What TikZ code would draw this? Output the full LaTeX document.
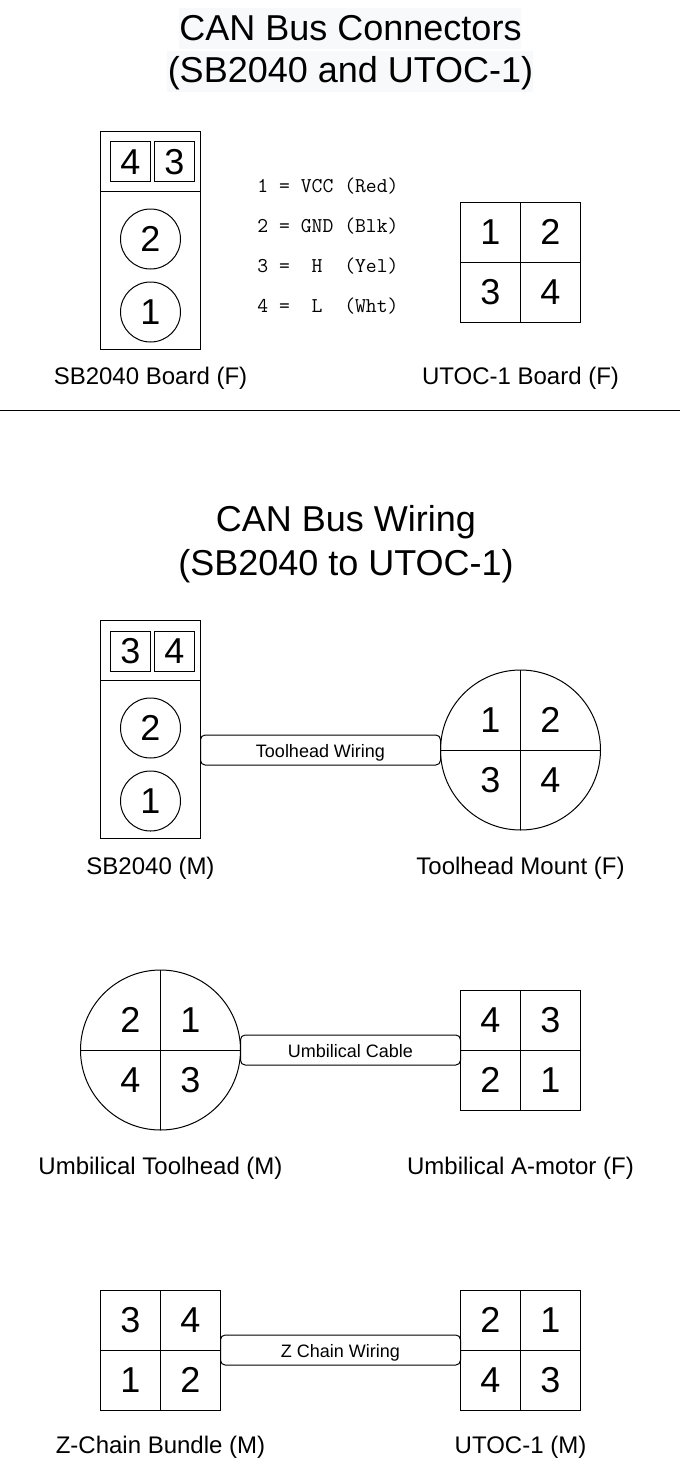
\documentclass[tikz,border=0pt]{standalone}
\usepackage{fontspec}
\setmainfont{Liberation Sans}
\definecolor{titlebg}{HTML}{F8F9FA}
\tikzset{
  every node/.style={inner sep=0pt,outer sep=0pt},
  titletext/.style={anchor=base,font=\fontsize{27pt}{27pt}\selectfont,text=black},
  caption/.style={anchor=base,font=\fontsize{18pt}{18pt}\selectfont,text=black},
  digit/.style={font=\fontsize{27pt}{27pt}\selectfont,text=black,text height=19pt,text depth=0pt},
  legend/.style={anchor=base,font=\fontsize{15.8pt}{15.8pt}\ttfamily,text=black},
  cell/.style={draw=black,line width=0.75pt,minimum width=45pt,minimum height=45pt,digit},
  pinbox/.style={draw=black,line width=0.75pt,minimum width=30pt,minimum height=30pt,digit},
  housing/.style={draw=black,line width=0.75pt,minimum width=75pt,minimum height=#1},
  pinround/.style={draw=black,line width=0.75pt,circle,minimum size=45pt,digit},
  biground/.style={draw=black,line width=0.75pt,circle,minimum size=120pt},
  cable/.style={draw=black,line width=0.75pt,rounded corners=3.5pt,minimum height=22.5pt,font=\fontsize{13.5pt}{13.5pt}\selectfont,text=black,text height=11.2pt,text depth=0pt},
  divider/.style={draw=black,line width=0.75pt},
}
\begin{document}
\begin{tikzpicture}[x=0.75pt,y=-0.75pt]
\useasboundingbox (0,0) rectangle (682,1471);
% titles
\fill[titlebg] (179,8) rectangle (521,48.7);
\fill[titlebg] (167,50.7) rectangle (533,91.7);
\begin{scope}[shift={(0.5,0)}]
\node[titletext] (t1) at (350,40.3) {CAN Bus Connectors};
\node[titletext] (t2) at (350,82.3) {(SB2040 and UTOC-1)};
\node[titletext] (t3) at (345.5,531.3) {CAN Bus Wiring};
\node[titletext] (t4) at (345.5,575) {(SB2040 to UTOC-1)};
% SB2040 board
\node[housing=163.5pt] (sbf) at (150,240.5) {};
\coordinate (sbfl) at (100,191);
\coordinate (sbfr) at (200,191);
\draw[divider] (sbfl) -- (sbfr);
\node[pinbox] (sbf4) at (130,161.5) {4};
\node[pinbox] (sbf3) at (174,161.5) {3};
\node[pinround] (sbf2) at (150,239) {2};
\node[pinround] (sbf1) at (150,312) {1};
\node[caption] (capsbf) at (150,384) {SB2040 Board (F)};
% legend
\node[legend] (l1) at (327.5,192) {1 = VCC (Red)};
\node[legend] (l2) at (327.5,232) {2 = GND (Blk)};
\node[legend] (l3) at (327.5,272) {3 =~~H~~(Yel)};
\node[legend] (l4) at (327.5,312) {4 =~~L~~(Wht)};
% UTOC-1 board
\node[cell] (ub1) at (490,232) {1};
\node[cell] (ub2) at (550,232) {2};
\node[cell] (ub3) at (490,292) {3};
\node[cell] (ub4) at (550,292) {4};
\node[caption] (capub) at (520,384) {UTOC-1 Board (F)};
% separator
\coordinate (sepl) at (-0.5,410);
\coordinate (sepr) at (679.5,410);
\draw[divider] (sepl) -- (sepr);
% SB2040 male
\node[housing=163.5pt] (sbm) at (150,729) {};
\coordinate (sbml) at (100,680);
\coordinate (sbmr) at (200,680);
\draw[divider] (sbml) -- (sbmr);
\node[pinbox] (sbm3) at (130,651) {3};
\node[pinbox] (sbm4) at (174,651) {4};
\node[pinround] (sbm2) at (150,728) {2};
\node[pinround] (sbm1) at (150,801) {1};
\node[caption] (capsbm) at (150,874) {SB2040 (M)};
% Toolhead mount
\node[biground] (tm) at (520,750) {};
\draw[divider] (tm.north) -- (tm.south);
\draw[divider] (tm.west) -- (tm.east);
\node[digit] (tm1) at (490,720) {1};
\node[digit] (tm2) at (550,720) {2};
\node[digit] (tm3) at (490,780) {3};
\node[digit] (tm4) at (550,780) {4};
\node[caption] (captm) at (520,874) {Toolhead Mount (F)};
\node[cable,minimum width=180pt] (w1) at (320,750) {Toolhead Wiring};
% Umbilical toolhead
\node[biground] (ut) at (160,1050) {};
\draw[divider] (ut.north) -- (ut.south);
\draw[divider] (ut.west) -- (ut.east);
\node[digit] (ut2) at (130,1020) {2};
\node[digit] (ut1) at (190,1020) {1};
\node[digit] (ut4) at (130,1080) {4};
\node[digit] (ut3) at (190,1080) {3};
\node[caption] (caput) at (160,1174) {Umbilical Toolhead (M)};
\node[cable,minimum width=165pt] (w2) at (350,1050) {Umbilical Cable};
% Umbilical A-motor
\node[cell] (ua4) at (490,1020) {4};
\node[cell] (ua3) at (550,1020) {3};
\node[cell] (ua2) at (490,1080) {2};
\node[cell] (ua1) at (550,1080) {1};
\node[caption] (capua) at (520,1174) {Umbilical A-motor (F)};
% Z chain bundle
\node[cell] (zb3) at (130,1320) {3};
\node[cell] (zb4) at (190,1320) {4};
\node[cell] (zb1) at (130,1380) {1};
\node[cell] (zb2) at (190,1380) {2};
\node[caption] (capzb) at (160,1453) {Z-Chain Bundle (M)};
\node[cable,minimum width=180pt] (w3) at (340,1350) {Z Chain Wiring};
% UTOC-1 male
\node[cell] (um2) at (490,1320) {2};
\node[cell] (um1) at (550,1320) {1};
\node[cell] (um4) at (490,1380) {4};
\node[cell] (um3) at (550,1380) {3};
\node[caption] (capum) at (520,1453) {UTOC-1 (M)};
\end{scope}
\end{tikzpicture}
\end{document}
